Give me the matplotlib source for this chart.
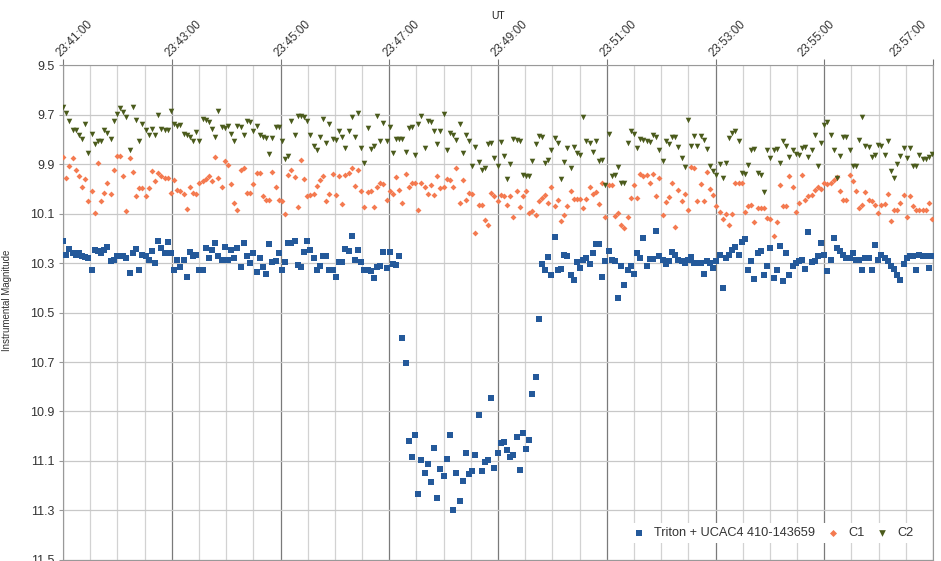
import numpy as np
import matplotlib
matplotlib.use('Agg')
from matplotlib import pyplot
import matplotlib.dates as mdates
from matplotlib.ticker import NullFormatter
from matplotlib.transforms import offset_copy

pyplot.rcParams['font.family'] = ['Liberation Sans', 'DejaVu Sans']

#time axis (UT), one frame every ~3.5 s
t_start    = np.datetime64('2017-10-05T23:41:00')
t_end      = np.datetime64('2017-10-05T23:57:00')
cadence_ms = 3500

#Triton + UCAC4 410-143659 (instrumental magnitude)
triton = [
	10.210, 10.266, 10.242, 10.259, 10.266, 10.259, 10.270, 10.275, 10.279, 10.327,
	10.246, 10.253, 10.259, 10.246, 10.235, 10.293, 10.289, 10.273, 10.273, 10.273,
	10.280, 10.340, 10.259, 10.242, 10.327, 10.266, 10.273, 10.286, 10.253, 10.300,
	10.210, 10.240, 10.259, 10.215, 10.259, 10.327, 10.286, 10.316, 10.286, 10.356,
	10.254, 10.273, 10.266, 10.330, 10.327, 10.240, 10.280, 10.249, 10.221, 10.273,
	10.286, 10.235, 10.286, 10.246, 10.280, 10.240, 10.316, 10.221, 10.273, 10.300,
	10.259, 10.338, 10.280, 10.316, 10.343, 10.222, 10.297, 10.293, 10.259, 10.327,
	10.297, 10.221, 10.219, 10.210, 10.310, 10.316, 10.257, 10.210, 10.246, 10.280,
	10.327, 10.313, 10.270, 10.270, 10.327, 10.327, 10.356, 10.297, 10.297, 10.243,
	10.253, 10.190, 10.289, 10.249, 10.297, 10.327, 10.327, 10.333, 10.360, 10.317,
	10.313, 10.254, 10.320, 10.255, 10.306, 10.310, 10.273,
	#occultation
	10.602, 10.706, 11.020, 11.082, 10.995, 11.234, 11.095, 11.149, 11.112, 11.184,
	11.048, 11.249, 11.134, 11.161, 11.090, 10.996, 11.296, 11.150, 11.263, 11.181,
	11.066, 11.153, 11.140, 11.075, 10.914, 11.140, 11.103, 11.094, 10.845, 11.127,
	11.066, 11.027, 11.025, 11.056, 11.082, 11.075, 11.005, 11.138, 10.986, 11.050,
	11.016, 10.828, 10.762, 10.527,
	#after
	10.306, 10.327, 10.275, 10.350, 10.196, 10.327, 10.324, 10.266, 10.270, 10.347,
	10.367, 10.297, 10.320, 10.286, 10.280, 10.306, 10.259, 10.222, 10.222, 10.356,
	10.293, 10.253, 10.286, 10.293, 10.440,
	10.313, 10.387, 10.327, 10.313, 10.343, 10.259, 10.280, 10.199, 10.313, 10.282,
	10.282, 10.172, 10.273, 10.286, 10.306, 10.293, 10.257, 10.266, 10.286, 10.293,
	10.300, 10.286, 10.275, 10.300, 10.300, 10.300, 10.343, 10.293, 10.300, 10.320,
	10.293, 10.266, 10.400, 10.280, 10.266, 10.246, 10.235, 10.266, 10.216, 10.205,
	10.327, 10.293, 10.364, 10.259, 10.253, 10.347, 10.313, 10.240, 10.360, 10.330,
	10.233, 10.373, 10.259, 10.347, 10.313, 10.300, 10.293, 10.286, 10.324, 10.176,
	10.297, 10.293, 10.273, 10.219, 10.266, 10.333, 10.286, 10.199, 10.240, 10.253,
	10.266, 10.280, 10.280, 10.259, 10.286, 10.286, 10.327, 10.280, 10.280, 10.327,
	10.226, 10.286, 10.266, 10.280, 10.293, 10.313, 10.324, 10.347, 10.367, 10.306,
	10.280, 10.273, 10.270, 10.327, 10.266, 10.273, 10.270, 10.320, 10.273,
]

#comparison star C1
c1 = [
	9.870, 9.957, 9.910, 9.876, 9.926, 9.950, 9.991, 9.961, 10.051, 10.011,
	10.098, 9.897, 10.051, 10.017, 9.977, 10.020, 9.923, 9.867, 9.867, 9.950,
	10.091, 9.876, 9.934, 10.028, 9.997, 9.997, 10.031, 9.997, 9.930, 9.970,
	9.937, 9.948, 9.957, 9.957, 10.017, 9.966, 10.007, 10.011, 10.020, 10.082,
	9.991, 10.017, 10.020, 9.977, 9.970, 9.961, 9.950, 9.970, 9.872, 9.957,
	9.991, 9.886, 9.903, 9.980, 10.058, 10.085, 9.926, 9.917, 10.017, 10.017,
	9.980, 9.937, 9.937, 10.031, 10.047, 10.047, 9.934, 9.991, 10.047, 10.051,
	10.101, 9.944, 9.923, 9.953, 10.074, 9.883, 9.961, 10.028, 10.024, 10.020,
	9.990,
	9.964, 9.950, 10.051, 10.020, 9.940, 10.024, 9.948, 10.061, 9.944, 9.937,
	9.917, 9.988, 9.926, 10.011, 10.074, 10.015, 10.011, 10.074, 9.991, 9.975,
	9.980, 10.044, 10.011, 10.020, 9.953, 10.004, 10.058, 9.940, 9.991, 9.977,
	9.975, 10.087, 9.975, 9.993, 10.020, 9.984, 10.024, 9.948, 9.997, 9.991,
	9.961, 9.964, 9.991, 9.917, 10.058, 9.966, 10.047, 10.017, 10.020, 10.179,
	10.065, 10.065, 10.125, 10.145, 10.017, 10.031, 10.051, 10.024, 10.028, 10.065,
	10.031, 10.114, 10.011, 10.074, 10.028, 10.011, 10.098, 10.091, 10.105, 10.051,
	10.038, 10.024, 10.058, 9.991, 10.071, 10.047, 10.132, 10.105, 10.069, 10.011,
	10.042, 10.042, 10.042, 10.078, 10.042, 9.991, 10.020, 10.015, 10.061, 9.977,
	10.114, 9.984, 9.984, 10.112,
	10.098, 10.145, 10.159, 10.114, 10.038, 9.984, 10.038, 9.940, 9.948, 9.944,
	9.977, 9.940, 10.031, 9.957, 10.105, 10.055, 10.034, 9.975, 10.155, 10.007,
	10.051, 10.020, 10.087, 9.913, 9.917, 10.051, 9.980, 10.051, 9.934, 10.001,
	10.024, 10.071, 10.095, 10.122, 10.101, 10.145, 10.101, 9.975, 9.975, 9.975,
	10.095, 10.071, 10.065, 10.136, 10.078, 10.078, 10.078, 10.118, 10.122, 10.192,
	10.136, 9.984, 10.069, 10.071, 9.948, 9.993, 10.095, 10.058, 9.944, 10.044,
	10.031, 10.024, 10.007, 9.991, 10.001, 9.977, 9.980, 9.975, 9.964, 9.953,
	10.011, 10.044, 10.047, 9.944, 9.970, 10.011, 10.078, 10.065, 10.015, 10.047,
	10.051, 10.065, 10.098, 10.065, 10.061, 10.020, 10.132, 10.085, 10.085, 10.058,
	10.024, 10.114, 10.031, 10.071, 10.085, 10.085, 10.085, 10.085, 10.058, 10.122,
]

#comparison star C2
c2 = [
	9.671, 9.695, 9.725, 9.762, 9.762, 9.782, 9.800, 9.738, 9.856, 9.778,
	9.819, 9.806, 9.806, 9.762, 9.776, 9.800, 9.725, 9.698, 9.675, 9.688,
	9.711, 9.843, 9.671, 9.722, 9.805, 9.738, 9.762, 9.782, 9.760, 9.782,
	9.703, 9.760, 9.762, 9.762, 9.684, 9.738, 9.746, 9.742, 9.778, 9.782,
	9.792, 9.809, 9.769, 9.809, 9.719, 9.722, 9.729, 9.760, 9.792, 9.684,
	9.749, 9.755, 9.746, 9.778, 9.809, 9.746, 9.751, 9.782, 9.725, 9.729,
	9.765, 9.746, 9.782, 9.789, 9.796, 9.859, 9.796, 9.751, 9.749, 9.805,
	9.880, 9.867, 9.725, 9.782, 9.708, 9.708, 9.711, 9.725, 9.782, 9.829,
	9.843,
	9.792, 9.719, 9.816, 9.738, 9.800, 9.802, 9.765, 9.789, 9.836, 9.765,
	9.711, 9.792, 9.692, 9.836, 9.894, 9.755, 9.840, 9.827, 9.708, 9.809,
	9.733, 9.805, 9.751, 9.854, 9.800, 9.800, 9.800, 9.850, 9.755, 9.751,
	9.863, 9.738, 9.708, 9.836, 9.725, 9.729, 9.765, 9.819, 9.765, 9.698,
	9.843, 9.773, 9.782, 9.802, 9.738, 9.856, 9.782, 9.805, 9.907, 9.832,
	9.890, 9.923, 9.917, 9.819, 9.816, 9.876, 9.910, 9.813, 9.867, 9.961,
	9.899, 9.800, 9.802, 9.809, 9.944, 9.948, 9.950, 9.886, 9.819, 9.786,
	9.789, 9.894, 9.883, 9.843, 9.796, 9.816, 9.961, 9.890, 9.836, 9.917,
	9.832, 9.856, 9.863, 9.711, 9.809, 9.816, 9.850, 9.805, 9.886, 9.883,
	9.984, 9.778, 9.948,
	9.944, 9.913, 9.975, 9.975, 9.816, 9.765, 9.778, 9.836, 9.800, 9.802,
	9.805, 9.813, 9.782, 9.792, 9.843, 9.886, 9.809, 9.819, 9.792, 9.789,
	9.832, 9.876, 9.913, 9.722, 9.829, 9.786, 9.829, 9.786, 9.802, 9.840,
	9.910, 9.930, 9.944, 9.899, 9.957, 9.894, 9.796, 9.773, 9.765, 9.809,
	9.937, 9.940, 9.903, 9.843, 9.840, 9.937, 9.944, 10.015, 9.843, 9.876,
	9.843, 9.840, 9.897, 9.805, 9.827, 9.870, 9.843, 9.859, 9.863, 9.836,
	9.832, 9.872, 9.845, 9.782, 9.907, 9.816, 9.742, 9.729, 9.782, 9.843,
	9.957, 9.867, 9.789, 9.792, 9.845, 9.907, 9.910, 9.802, 9.711, 9.827,
	9.832, 9.872, 9.863, 9.823, 9.827, 9.863, 9.809, 9.930, 9.957, 9.899,
	9.867, 9.836, 9.876, 9.836, 9.907, 9.910, 9.863, 9.880, 9.880, 9.870,
	9.860,
]

labels  = ['Triton + UCAC4 410-143659', 'C1', 'C2']
yticks  = np.round(np.arange(9.5, 11.51, 0.2), 1)


def frame_times(n):
	return t_start + np.arange(n) * np.timedelta64(cadence_ms, 'ms')


#plot:
pyplot.close('all')
fig = pyplot.figure(figsize=(9.41, 5.61), dpi=100)
ax  = fig.add_axes([0.067, 0.0018, 0.9245, 0.8823])

ax.scatter(frame_times(len(triton)), triton, marker='s', s=14, color='#24599a', lw=0, zorder=3, label=labels[0])
ax.scatter(frame_times(len(c1)), c1, marker='D', s=9, color='#f47a50', lw=0, zorder=3, label=labels[1])
ax.scatter(frame_times(len(c2)), c2, marker='v', s=16, color='#4b5b1c', lw=0, zorder=3, label=labels[2])

ax.set_xlim(t_start, t_end)
ax.set_ylim(11.5, 9.5)
ax.set_yticks(yticks)
ax.set_yticklabels(['%.1f' % v for v in yticks], fontsize=9, color='#333333')

ax.xaxis.tick_top()
ax.xaxis.set_major_locator(mdates.MinuteLocator(byminute=range(41, 58, 2)))
ax.xaxis.set_minor_locator(mdates.SecondLocator(bysecond=[0, 30]))
ax.xaxis.set_major_formatter(NullFormatter())
ax.tick_params(axis='x', which='major', length=4, color='#777777')
ax.tick_params(axis='x', which='minor', length=0)
ax.tick_params(axis='y', length=3, color='#999999', pad=3)

#rotated time labels; the last two are pulled left so they stay inside the figure
shift_px = [0, 0, 0, 0, 0, 0, 0, -20, -36]
for loc, dx in zip(ax.get_xticks(), shift_px):
	tr = offset_copy(ax.get_xaxis_transform(), fig=fig, x=dx, y=6, units='dots')
	ax.text(loc, 1.0, mdates.num2date(loc).strftime('%H:%M:%S'), transform=tr,
		rotation=45, ha='left', va='bottom', rotation_mode='anchor',
		fontsize=8.5, color='#333333', clip_on=False)

ax.grid(axis='y', color='#c8c8c8', lw=0.9)
ax.grid(axis='x', which='minor', color='#d2d2d2', lw=0.9)
ax.grid(axis='x', which='major', color='#7a7a7a', lw=0.9)
ax.set_axisbelow(True)
for sp in ax.spines.values():
	sp.set_color('#999999')

ax.set_ylabel('Instrumental Magnitude', fontsize=7, color='#333333')
ax.yaxis.set_label_coords(-0.0586, 0.525)
fig.text(0.529, 0.972, 'UT', ha='center', va='center', fontsize=7.5, color='#222222')

leg = ax.legend(loc='lower right', bbox_to_anchor=(0.99, 0.022), ncol=3, fontsize=9.2,
	handletextpad=0.8, columnspacing=1.0, handlelength=0.8, borderpad=0.3,
	frameon=True, facecolor='white', edgecolor='none', framealpha=1.0, scatterpoints=1,
	markerscale=1.2)
for t in leg.get_texts():
	t.set_color('#333333')

pyplot.savefig('out.png', dpi=100)
